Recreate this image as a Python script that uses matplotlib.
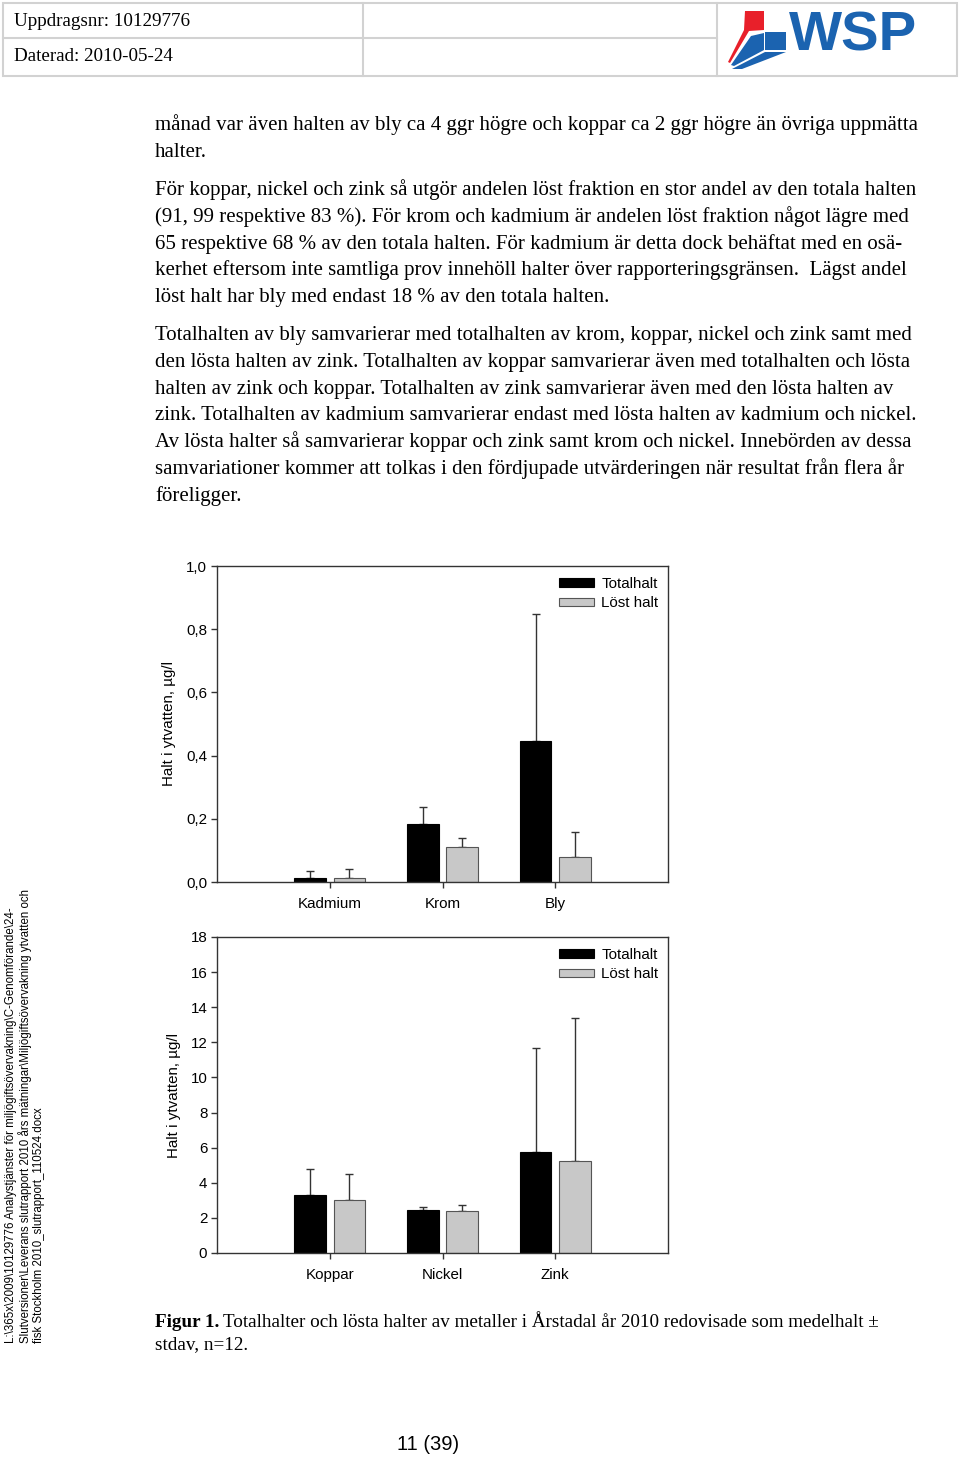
import matplotlib
matplotlib.use('Agg')
import matplotlib.pyplot as plt
from matplotlib.patches import Polygon, Rectangle
import numpy as np

W, H = 960, 1458

# chart data (mean +/- stdav, n=12)
metals1 = ['Kadmium', 'Krom', 'Bly']
total1 = [0.013, 0.184, 0.446]
total1_sd = [0.021, 0.053, 0.403]
lost1 = [0.013, 0.110, 0.078]
lost1_sd = [0.027, 0.029, 0.080]

metals2 = ['Koppar', 'Nickel', 'Zink']
total2 = [3.30, 2.43, 5.73]
total2_sd = [1.50, 0.21, 5.96]
lost2 = [3.00, 2.37, 5.26]
lost2_sd = [1.52, 0.36, 8.12]

yticks1 = [0.0, 0.2, 0.4, 0.6, 0.8, 1.0]
yticks2 = [0, 2, 4, 6, 8, 10, 12, 14, 16, 18]

para1 = ["månad var även halten av bly ca 4 ggr högre och koppar ca 2 ggr högre än övriga uppmätta",
         "halter."]
para2 = ["För koppar, nickel och zink så utgör andelen löst fraktion en stor andel av den totala halten",
         "(91, 99 respektive 83 %). För krom och kadmium är andelen löst fraktion något lägre med",
         "65 respektive 68 % av den totala halten. För kadmium är detta dock behäftat med en osä-",
         "kerhet eftersom inte samtliga prov innehöll halter över rapporteringsgränsen.  Lägst andel",
         "löst halt har bly med endast 18 % av den totala halten."]
para3 = ["Totalhalten av bly samvarierar med totalhalten av krom, koppar, nickel och zink samt med",
         "den lösta halten av zink. Totalhalten av koppar samvarierar även med totalhalten och lösta",
         "halten av zink och koppar. Totalhalten av zink samvarierar även med den lösta halten av",
         "zink. Totalhalten av kadmium samvarierar endast med lösta halten av kadmium och nickel.",
         "Av lösta halter så samvarierar koppar och zink samt krom och nickel. Innebörden av dessa",
         "samvariationer kommer att tolkas i den fördjupade utvärderingen när resultat från flera år",
         "föreligger."]

side_lines = ["L:\\365x\\2009\\10129776 Analystjänster för miljögiftsövervakning\\C-Genomförande\\24-",
              "Slutversioner\\Leverans slutrapport 2010 års mätningar\\Miljögiftsövervakning ytvatten och",
              "fisk Stockholm 2010_slutrapport_110524.docx"]

SERIF = 'Liberation Serif'
SANS = 'Liberation Sans'

fig = plt.figure(figsize=(W / 100, H / 100), dpi=100)
page = fig.add_axes([0, 0, 1, 1])
page.set_xlim(0, W)
page.set_ylim(H, 0)
page.axis('off')

# header table
grey = '#d2d2d2'
page.add_patch(Rectangle((3, 3), 954, 73, fill=False, ec=grey, lw=1.5))
page.plot([3, 717], [38, 38], color=grey, lw=1.5)
page.plot([363, 363], [3, 76], color=grey, lw=1.5)
page.plot([717, 717], [3, 76], color=grey, lw=1.5)
page.text(14, 26, 'Uppdragsnr: 10129776', family=SERIF, fontsize=13.7, va='baseline')
page.text(14, 61, 'Daterad: 2010-05-24', family=SERIF, fontsize=13.7, va='baseline')

# WSP logo
red = '#e8202a'
blue = '#1b63b0'
page.add_patch(Polygon([(745, 11), (764, 11), (764, 30), (749, 31), (730, 63), (728, 62), (744, 30)], color=red, lw=0))
page.add_patch(Rectangle((765, 32), 21, 18, color=blue, lw=0))
page.add_patch(Polygon([(764, 33), (764, 50), (734, 66), (731, 65), (751, 36)], color=blue, lw=0))
page.add_patch(Polygon([(765, 52), (786, 52), (742, 69), (732, 69)], color=blue, lw=0))
page.text(789, 50, 'WSP', family=SANS, fontweight='bold', fontsize=40.5, color=blue, va='baseline')

# body text
def put_para(lines, y0, pitch=26.8):
    for i, s in enumerate(lines):
        page.text(155, y0 + i * pitch + 6, s, family=SERIF, fontsize=15.0, va='baseline')

put_para(para1, 124)
put_para(para2, 189)
put_para(para3, 334)

# side path text
for i, s in enumerate(side_lines):
    page.text(11 + i * 14, 1343, s, family=SANS, fontsize=8.3, rotation=90,
              rotation_mode='anchor', ha='left', va='center')

# caption
cap = page.text(155, 1327, 'Figur 1.', family=SERIF, fontsize=13.8, fontweight='bold', va='baseline')
fig.canvas.draw()
bb = cap.get_window_extent()
page.text(155 + bb.width + 4, 1327,
          'Totalhalter och lösta halter av metaller i Årstadal år 2010 redovisade som medelhalt ±',
          family=SERIF, fontsize=13.8, va='baseline')
page.text(155, 1349, 'stdav, n=12.', family=SERIF, fontsize=13.8, va='baseline')

page.text(428, 1445, '11 (39)', family=['Liberation Sans Narrow', SANS], fontsize=14.5,
          ha='center', va='center')


def px_axes(left, top, right, bottom):
    return fig.add_axes([left / W, 1 - bottom / H, (right - left) / W, (bottom - top) / H])


def bar_chart(ax, cats, tot, tot_sd, lost, lost_sd, ticks, labels):
    x = np.arange(1, len(cats) + 1)
    off, bw = 0.175, 0.28
    ax.bar(x - off, tot, bw, color='black', edgecolor='black', lw=0.8, label='Totalhalt', zorder=2)
    ax.bar(x + off, lost, bw, color='#c8c8c8', edgecolor='#555555', lw=0.8, label='Löst halt', zorder=2)
    ax.errorbar(x - off, tot, yerr=[np.zeros(len(x)), tot_sd], fmt='none', ecolor='#333333',
                elinewidth=1, capsize=2.6, capthick=1, zorder=1)
    ax.errorbar(x + off, lost, yerr=[np.zeros(len(x)), lost_sd], fmt='none', ecolor='#333333',
                elinewidth=1, capsize=2.6, capthick=1, zorder=1)
    ax.set_xlim(0, 4)
    ax.set_ylim(ticks[0], ticks[-1])
    ax.set_xticks(x)
    ax.set_xticklabels(cats, family=SANS, fontsize=10.9)
    ax.set_yticks(ticks)
    ax.set_yticklabels(labels, family=SANS, fontsize=10.9)
    ax.tick_params(axis='y', direction='out', length=4, width=1, pad=3, color='#333333')
    ax.tick_params(axis='x', direction='out', length=4, width=1, pad=7, color='#333333')
    for sp in ax.spines.values():
        sp.set_color('#333333')
        sp.set_linewidth(1.0)
    ax.set_ylabel('Halt i ytvatten, µg/l', family=SANS, fontsize=10.9, labelpad=7)
    ax.legend(loc='upper left', bbox_to_anchor=(0.758, 0.965), frameon=False,
              prop={'family': SANS, 'size': 10.9}, handlelength=2.3, handleheight=0.5,
              handletextpad=0.5, labelspacing=0.35, borderpad=0, borderaxespad=0)


ax1 = px_axes(217, 566, 668, 882)
bar_chart(ax1, metals1, total1, total1_sd, lost1, lost1_sd, yticks1,
          [f'{v:.1f}'.replace('.', ',') for v in yticks1])

ax2 = px_axes(217, 937, 668, 1253)
bar_chart(ax2, metals2, total2, total2_sd, lost2, lost2_sd, yticks2,
          [str(v) for v in yticks2])

fig.savefig('out.png', dpi=100)
